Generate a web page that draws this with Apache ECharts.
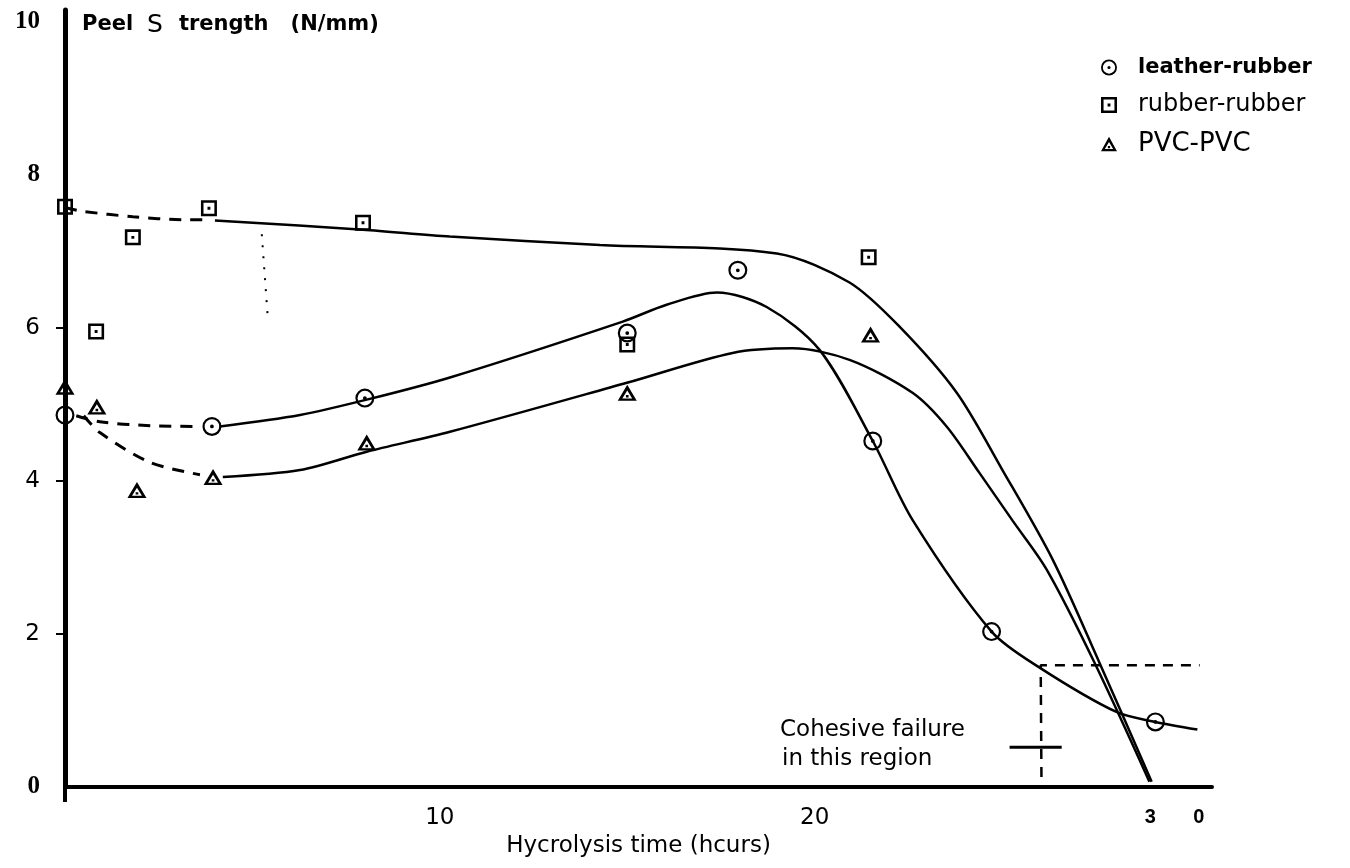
<!DOCTYPE html>
<html>
<head>
<meta charset="utf-8" />
<title>Peel strength vs hydrolysis time</title>
<script src="https://cdn.jsdelivr.net/npm/echarts@6/dist/echarts.min.js"></script>
<style>
html, body { margin: 0; padding: 0; background: #fff; }
#main { width: 1350px; height: 868px; }
</style>
</head>
<body>
<div id="main"></div>
<script>
// measured points: [hours, N/mm]
var leatherPts = [[0, 4.86], [3.92, 4.71], [8.0, 5.08], [15.0, 5.93], [17.95, 6.75], [21.55, 4.52], [24.72, 2.03], [29.09, 0.85]];
var rubberPts = [[0, 7.58], [0.83, 5.95], [1.81, 7.18], [3.84, 7.56], [7.95, 7.37], [15.0, 5.78], [21.44, 6.92]];
var pvcPts = [[0, 5.23], [0.85, 4.97], [1.92, 3.88], [3.95, 4.05], [8.05, 4.5], [15.0, 5.15], [21.49, 5.91]];

// hand drawn trend curves
var leatherDash = [[0.3, 4.85], [0.93, 4.77], [2.27, 4.72], [3.6, 4.71]];
var leatherCurve = [[4.13, 4.71], [6.27, 4.86], [8.05, 5.06], [10.27, 5.35], [14.88, 6.08], [16.05, 6.3], [17.39, 6.46], [18.72, 6.27], [20.13, 5.71], [21.55, 4.52], [22.61, 3.49], [24.72, 2.03], [26.0, 1.56], [28.05, 0.98], [29.09, 0.85], [30.21, 0.75]];
var rubberDash = [[0, 7.57], [0.48, 7.52], [1.81, 7.45], [3.15, 7.41], [3.87, 7.41]];
var rubberCurve = [[4.0, 7.4], [7.95, 7.28], [10.27, 7.19], [14.27, 7.08], [18.99, 6.97], [20.93, 6.59], [22.27, 6.01], [23.79, 5.15], [25.01, 4.14], [26.35, 2.97], [27.6, 1.62], [28.99, 0.07]];
var pvcDash = [[0.5, 4.85], [0.93, 4.63], [2.27, 4.24], [3.6, 4.08]];
var pvcCurve = [[4.21, 4.05], [6.27, 4.14], [8.05, 4.38], [10.27, 4.64], [14.99, 5.28], [17.81, 5.67], [19.41, 5.73], [20.93, 5.58], [22.61, 5.15], [23.52, 4.71], [24.4, 4.1], [25.28, 3.48], [26.19, 2.84], [27.47, 1.62], [28.93, 0.07]];

// cohesive failure region boundary + pointer
var regionEdge = [[26.05, 0.13], [26.03, 1.59], [30.27, 1.59]];
var regionPointer = [[25.2, 0.52], [26.59, 0.52]];
var strayMark = [[5.25, 7.22], [5.41, 6.13]];

var xTicks = [10, 20, 30];
var yTicks = [0, 2, 4, 6, 8, 10];

// symbols with a dot in the middle (holes via opposite winding)
var circPath = 'path://M0,10 A10,10 0 1,1 20,10 A10,10 0 1,1 0,10 Z M2.3,10 A7.7,7.7 0 1,0 17.7,10 A7.7,7.7 0 1,0 2.3,10 Z M8,10 A2,2 0 1,1 12,10 A2,2 0 1,1 8,10 Z';
var sqPath = 'path://M0,0 L20,0 L20,20 L0,20 Z M3.2,3.2 L3.2,16.8 L16.8,16.8 L16.8,3.2 Z M8.2,8.2 L11.8,8.2 L11.8,11.8 L8.2,11.8 Z';
var triPath = 'path://M10,0 L20,18 L0,18 Z M10,6.5 L4.8,15.4 L15.2,15.4 Z M8.6,11.6 L11.4,11.6 L11.4,14.2 L8.6,14.2 Z';

function curve(name, data, dashed) {
  return {
    name: name,
    type: 'line',
    data: data,
    smooth: 0.3,
    symbol: 'none',
    silent: true,
    z: 3,
    lineStyle: { color: '#000', width: dashed ? 3 : 2.5, type: dashed ? [12, 9] : 'solid' }
  };
}

var myChart = echarts.init(document.getElementById('main'));
myChart.setOption({
  backgroundColor: '#fff',
  animation: false,
  grid: { left: 65, right: 138, top: 10, bottom: 81, outerBoundsMode: 'none' },
  legend: {
    orient: 'vertical',
    left: 1096,
    top: 51,
    itemWidth: 16,
    itemHeight: 16,
    itemGap: 14,
    selectedMode: false,
    textStyle: { color: '#000', fontFamily: 'DejaVu Sans', lineHeight: 23, padding: [0, 0, 0, 16] },
    data: [
      { name: 'leather-rubber', icon: circPath, textStyle: { fontWeight: 'bold', fontSize: 21 } },
      { name: 'rubber-rubber', icon: sqPath, textStyle: { fontSize: 24 } },
      { name: 'PVC-PVC', icon: triPath, textStyle: { fontSize: 26 } }
    ]
  },
  xAxis: {
    type: 'value',
    min: 0,
    max: 30.6,
    name: 'Hycrolysis time (hcurs)',
    nameLocation: 'middle',
    nameGap: 42,
    nameTextStyle: { color: '#000', fontFamily: 'DejaVu Sans', fontSize: 23 },
    axisLine: { lineStyle: { color: '#000', width: 4 } },
    splitLine: { show: false },
    axisTick: { show: true, customValues: [0], length: 15, lineStyle: { color: '#000', width: 4 } },
    axisLabel: {
      customValues: xTicks,
      margin: 20,
      color: '#000',
      formatter: function (v) {
        if (v === 30) return '{b|3} {c|0}';
        return '{t|' + v + '}';
      },
      rich: {
        t: { fontFamily: 'DejaVu Sans', fontSize: 23, color: '#000' },
        b: { fontFamily: 'Liberation Sans', fontWeight: 'bold', fontSize: 20, color: '#000' },
        c: { fontFamily: 'Liberation Sans', fontWeight: 'bold', fontSize: 20, color: '#000', padding: [0, 30, 0, 34] }
      }
    }
  },
  yAxis: {
    type: 'value',
    min: 0,
    max: 10.15,
    name: '{a|Peel}{s|S}{a|trength}{p|(N/mm)}',
    nameLocation: 'end',
    nameGap: -15,
    nameTextStyle: {
      align: 'left',
      verticalAlign: 'middle',
      padding: [0, 0, 0, 17],
      rich: {
        a: { fontFamily: 'DejaVu Sans', fontWeight: 'bold', fontSize: 21, color: '#000' },
        s: { fontFamily: 'DejaVu Sans', fontSize: 25, color: '#000', padding: [0, 16, 0, 14] },
        p: { fontFamily: 'DejaVu Sans', fontWeight: 'bold', fontSize: 21, color: '#000', padding: [0, 0, 0, 22] }
      }
    },
    axisLine: { lineStyle: { color: '#000', width: 5 } },
    splitLine: { show: false },
    axisTick: { show: true, customValues: [2, 4, 6], length: 9, lineStyle: { color: '#000', width: 2 } },
    axisLabel: {
      customValues: yTicks,
      margin: 25,
      formatter: function (v) {
        if (v === 0 || v === 8 || v === 10) return '{s|' + v + '}';
        return '{h|' + v + '}';
      },
      rich: {
        s: { fontFamily: 'Liberation Serif', fontWeight: 'bold', fontSize: 25, color: '#000' },
        h: { fontFamily: 'DejaVu Sans', fontSize: 23, color: '#000' }
      }
    }
  },
  graphic: [
    { type: 'text', left: 780, top: 719, style: { text: 'Cohesive failure', fontFamily: 'DejaVu Sans', fontSize: 23, fill: '#000' } },
    { type: 'text', left: 782, top: 748, style: { text: 'in this region', fontFamily: 'DejaVu Sans', fontSize: 23, fill: '#000' } }
  ],
  series: [
    curve('leather fit dashed', leatherDash, true),
    curve('leather fit', leatherCurve, false),
    curve('rubber fit dashed', rubberDash, true),
    curve('rubber fit', rubberCurve, false),
    curve('pvc fit dashed', pvcDash, true),
    curve('pvc fit', pvcCurve, false),
    {
      name: 'region', type: 'line', data: regionEdge, symbol: 'none', silent: true, z: 3,
      lineStyle: { color: '#000', width: 2.5, type: [10, 8] }
    },
    {
      name: 'pointer', type: 'line', data: regionPointer, symbol: 'none', silent: true, z: 3,
      lineStyle: { color: '#000', width: 3 }
    },
    {
      name: 'stray', type: 'line', data: strayMark, symbol: 'none', silent: true, z: 2,
      lineStyle: { color: '#000', width: 2, type: [2, 9] }
    },
    { name: 'leather-rubber', type: 'scatter', data: leatherPts, symbol: circPath, symbolSize: 19, itemStyle: { color: '#000', opacity: 1 }, z: 5 },
    { name: 'rubber-rubber', type: 'scatter', data: rubberPts, symbol: sqPath, symbolSize: 16, itemStyle: { color: '#000', opacity: 1 }, z: 5 },
    { name: 'PVC-PVC', type: 'scatter', data: pvcPts, symbol: triPath, symbolSize: [19, 16], itemStyle: { color: '#000', opacity: 1 }, z: 5 }
  ]
});
</script>
</body>
</html>
